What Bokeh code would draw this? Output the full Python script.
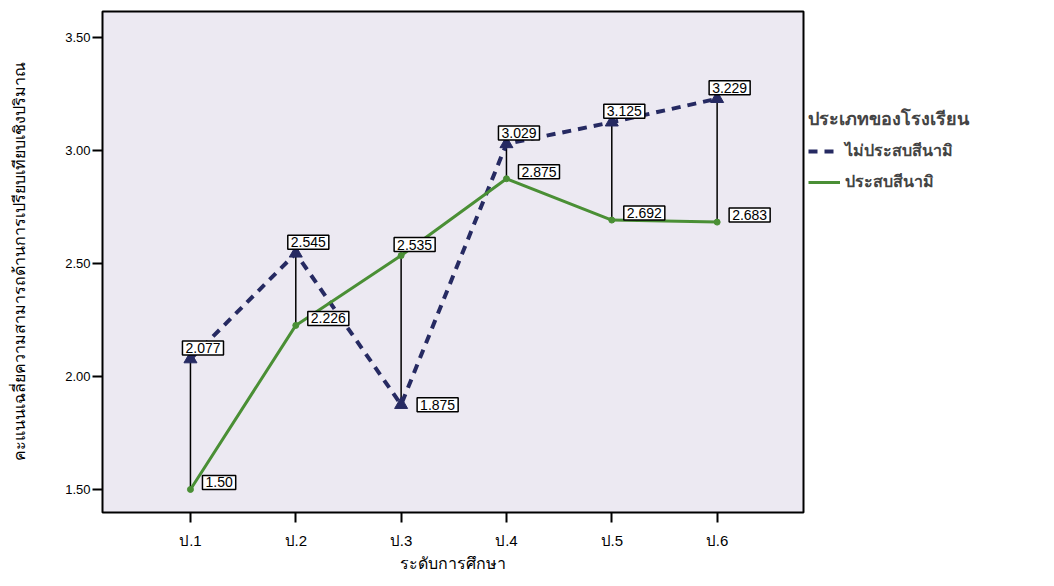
from bokeh.plotting import figure
from bokeh.models import ColumnDataSource, Legend, LegendItem, FixedTicker, NumeralTickFormatter, Range1d
from bokeh.core.properties import value
from bokeh.embed import file_html
from bokeh.resources import INLINE

categories = ["ป.1", "ป.2", "ป.3", "ป.4", "ป.5", "ป.6"]
not_tsunami = [2.077, 2.545, 1.875, 3.029, 3.125, 3.229]
tsunami = [1.50, 2.226, 2.535, 2.875, 2.692, 2.683]
not_tsunami_labels = ["2.077", "2.545", "1.875", "3.029", "3.125", "3.229"]
tsunami_labels = ["1.50", "2.226", "2.535", "2.875", "2.692", "2.683"]
y_ticks = [1.5, 2.0, 2.5, 3.0, 3.5]
series_names = ["ไม่ประสบสีนามิ", "ประสบสีนามิ"]
legend_title = "ประเภทของโรงเรียน"
x_title = "ระดับการศึกษา"
y_title = "คะแนนเฉลี่ยความสามารถด้านการเปรียบเทียบเชิงปริมาณ"

xs = list(range(1, len(categories) + 1))

p = figure(frame_width=701, frame_height=501, output_backend="svg", toolbar_location=None,
           x_range=Range1d(0.165, 6.82), y_range=Range1d(1.398, 3.615),
           min_border_left=102, min_border_right=10, min_border_top=11, min_border_bottom=70)
p.background_fill_color = "#ECE9F2"
p.border_fill_color = "white"
p.outline_line_color = "black"
p.outline_line_width = 2
p.grid.visible = False

DASH_COLOR = "#262a62"
GREEN = "#4a8f35"

# vertical connectors
p.segment(x0=xs, y0=tsunami, x1=xs, y1=not_tsunami, line_color="black", line_width=1.5)

r_dash = p.line(xs, not_tsunami, line_color=DASH_COLOR, line_width=4, line_dash="9 7")
r_green = p.line(xs, tsunami, line_color=GREEN, line_width=3)
p.scatter(xs, not_tsunami, marker="triangle", size=13, fill_color=DASH_COLOR, line_color=DASH_COLOR)
p.scatter(xs, tsunami, marker="circle", size=6, fill_color=GREEN, line_color=GREEN)

# value labels
lx, ly, lt, anc, xo, yo = [], [], [], [], [], []
for x, d, g, dl, gl in zip(xs, not_tsunami, tsunami, not_tsunami_labels, tsunami_labels):
    lx += [x, x]; ly += [d, g]; lt += [dl, gl]
    if d >= g:
        anc += ["bottom_left", "bottom_left"]; xo += [-8, 12]; yo += [-4, 0]
    else:
        anc += ["center_left", "bottom_left"]; xo += [16, -7]; yo += [0, -4]
lsrc = ColumnDataSource(dict(x=lx, y=ly, text=lt, anchor=anc, xo=xo, yo=yo))
p.text(x="x", y="y", text="text", source=lsrc, anchor="anchor", x_offset="xo", y_offset="yo",
       text_font=value("Liberation Sans"), text_font_size="14px", text_color="black",
       background_fill_color="white", border_line_color="black", border_line_width=1.5,
       padding=[3, 2])

# axes
p.xaxis.ticker = FixedTicker(ticks=xs)
p.xaxis.major_label_overrides = {x: c for x, c in zip(xs, categories)}
p.yaxis.ticker = FixedTicker(ticks=y_ticks)
p.yaxis.formatter = NumeralTickFormatter(format="0.00")
for ax in (p.xaxis[0], p.yaxis[0]):
    ax.axis_line_color = None
    ax.major_tick_in = 0
    ax.major_tick_out = 10
    ax.major_tick_line_width = 2
    ax.minor_tick_line_color = None
    ax.major_label_text_font = "Liberation Sans"
    ax.major_label_text_font_size = "13px"
    ax.major_label_text_color = "black"
    ax.axis_label_text_font = "Noto Sans"
    ax.axis_label_text_font_size = "16px"
    ax.axis_label_text_font_style = "normal"
    ax.axis_label_text_color = "black"
p.xaxis.axis_label = x_title
p.yaxis.axis_label = y_title
p.xaxis.major_label_standoff = 9
p.xaxis.major_label_text_font_size = "15px"
p.xaxis.axis_label_standoff = 0
p.yaxis.major_label_standoff = 2
p.yaxis.axis_label_standoff = 32

legend = Legend(items=[LegendItem(label=series_names[0], renderers=[r_dash]),
                       LegendItem(label=series_names[1], renderers=[r_green])],
                title=legend_title, location=(5, 318))
legend.title_text_font = "Noto Sans"
legend.title_text_font_size = "18px"
legend.title_text_font_style = "bold"
legend.label_text_font = "Noto Sans"
legend.label_text_font_size = "16px"
legend.label_text_font_style = "bold"
legend.border_line_color = None
legend.background_fill_alpha = 0
legend.glyph_width = 32
legend.spacing = 6
legend.label_height = 24
legend.glyph_height = 24
p.add_layout(legend, "right")

open("out.html", "w").write(file_html(p, INLINE))
